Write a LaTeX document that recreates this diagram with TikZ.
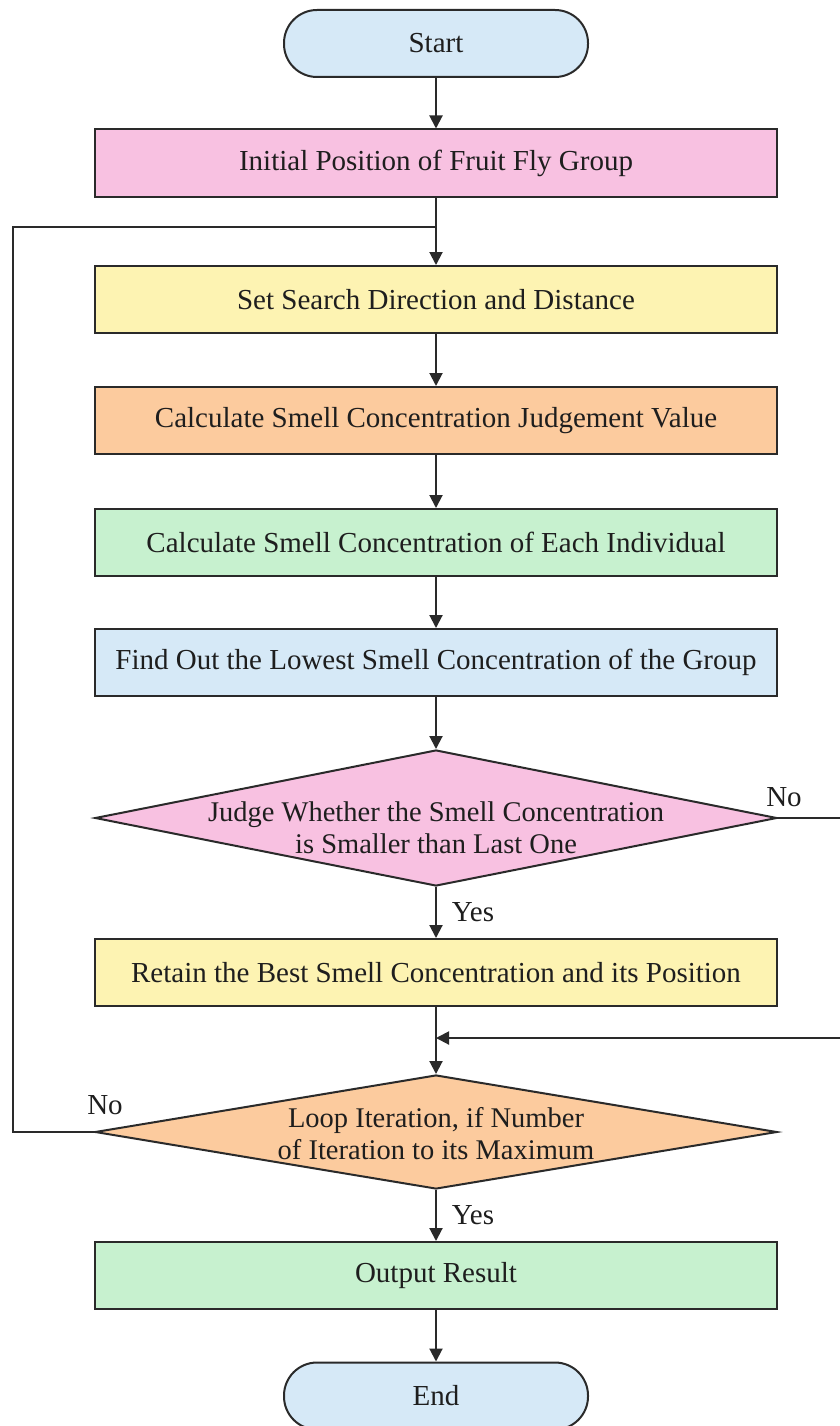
\documentclass[tikz,border=0pt]{standalone}
\usepackage{fontspec}
\setmainfont{Liberation Serif}
\newfontfamily\diafont{Liberation Serif}
\usetikzlibrary{shapes.geometric,arrows.meta}
\definecolor{cpink}{HTML}{F8C1E1}
\definecolor{cyellow}{HTML}{FDF3B2}
\definecolor{corange}{HTML}{FCCB9E}
\definecolor{cgreen}{HTML}{C7F1CF}
\definecolor{cblue}{HTML}{D6E9F7}
\definecolor{cline}{HTML}{2A2A2A}
\definecolor{ctext}{HTML}{1E1E1E}
\begin{document}
\begin{tikzpicture}[x=1pt,y=-1pt,
  every node/.style={font=\diafont\fontsize{29}{32}\selectfont, text=ctext},
  procbox/.style={draw=cline, line width=2pt, rectangle, minimum width=682pt, minimum height=67pt, inner sep=0pt},
  termbox/.style={draw=cline, line width=2pt, rectangle, rounded corners=33pt, minimum width=304pt, minimum height=67pt, fill=cblue, inner sep=0pt},
  decbox/.style={draw=cline, line width=2pt, diamond, minimum width=682pt, inner sep=0pt},
  dectext/.style={align=center, inner sep=0pt, font=\diafont\fontsize{28.5}{32}\selectfont},
  conn/.style={draw=cline, line width=2pt},
  arr/.style={conn, -{Triangle[width=13pt,length=13pt]}},
  lbl/.style={inner sep=0pt}
]
\useasboundingbox (0,0) rectangle (840,1426);
\fill[white] (0,0) rectangle (840,1426);

\node[termbox] (start) at (436,43.5) {Start};
\node[procbox, fill=cpink] (b1) at (436,163) {Initial Position of Fruit Fly Group};
\node[procbox, fill=cyellow] (b2) at (436,299.5) {Set Search Direction and Distance};
\node[procbox, fill=corange] (b3) at (436,420.5) {Calculate Smell Concentration Judgement Value};
\node[procbox, fill=cgreen] (b4) at (436,542.5) {Calculate Smell Concentration of Each Individual};
\node[procbox, fill=cblue] (b5) at (436,662.5) {Find Out the Lowest Smell Concentration of the Group};
\node[decbox, fill=cpink, minimum height=136pt] (d1) at (436,818) {};
\node[dectext] (d1t) at (436,828) {Judge Whether the Smell Concentration\\is Smaller than Last One};
\node[procbox, fill=cyellow] (b6) at (436,972.5) {Retain the Best Smell Concentration and its Position};
\node[decbox, fill=corange, minimum height=114pt] (d2) at (436,1132) {};
\node[dectext] (d2t) at (436,1134) {Loop Iteration, if Number\\of Iteration to its Maximum};
\node[procbox, fill=cgreen] (b7) at (436,1275.5) {Output Result};
\node[termbox] (end) at (436,1396) {End};

\coordinate (loopL) at (13,1132);
\coordinate (loopT) at (13,227);
\coordinate (loopJ) at (436,227);
\coordinate (rOut1) at (850,818);
\coordinate (rOut2) at (850,1038);
\coordinate (mergeJ) at (436,1038);

\draw[arr] (start) -- (b1);
\draw[conn] (b1) -- (loopJ);
\draw[arr] (loopJ) -- (b2);
\draw[arr] (b2) -- (b3);
\draw[arr] (b3) -- (b4);
\draw[arr] (b4) -- (b5);
\draw[arr] (b5) -- (d1);
\draw[arr] (d1) -- (b6);
\draw[arr] (b6) -- (d2);
\draw[arr] (d2) -- (b7);
\draw[arr] (b7) -- (end);
\draw[conn] (d2.west) -- (loopL) -- (loopT) -- (loopJ);
\draw[conn] (d1.east) -- (rOut1);
\draw[arr] (rOut2) -- (mergeJ);

\node[lbl] (no1) at (784,797) {No};
\node[lbl] (yes1) at (473,912) {Yes};
\node[lbl] (no2) at (105,1105) {No};
\node[lbl] (yes2) at (473,1215) {Yes};
\end{tikzpicture}
\end{document}
